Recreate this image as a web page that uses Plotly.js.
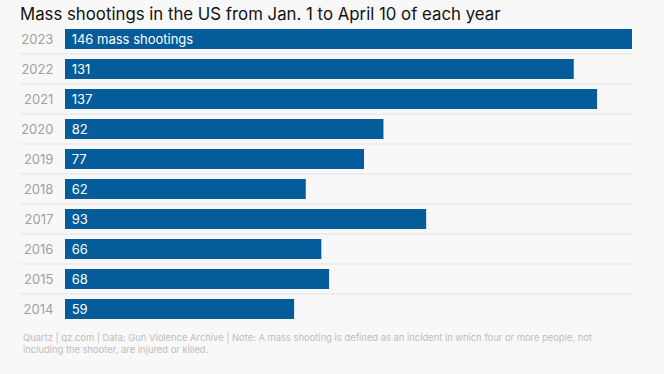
<!DOCTYPE html>
<html>
<head>
<meta charset="utf-8">
<script src="https://cdn.plot.ly/plotly-3.0.1.min.js"></script>
<style>html,body{margin:0;padding:0;background:#f8f8f8;}</style>
</head>
<body>
<div id="chart" style="width:664px;height:374px;"></div>
<script>
const years = ["2023","2022","2021","2020","2019","2018","2017","2016","2015","2014"];
const shootings = [146,131,137,82,77,62,93,66,68,59];
const barLabels = ["146 mass shootings","131","137","82","77","62","93","66","68","59"];

const W = 664, L = 65, R = 32;
const plotW = W - L - R;
const font = "Inter, 'Noto Sans', Arial, sans-serif";

const shapes = [];
for (let i = 0; i < years.length - 1; i++) {
  shapes.push({
    type: "line", xref: "paper", yref: "y",
    x0: (20 - L) / plotW, x1: 1,
    y0: i + 0.5, y1: i + 0.5,
    line: {color: "#e3e3e3", width: 1},
    layer: "below"
  });
}

const trace = {
  type: "bar",
  orientation: "h",
  y: years,
  x: shootings,
  text: barLabels.map(t => "\u00a0" + t),
  textposition: "inside",
  insidetextanchor: "start",
  textfont: {color: "#ffffff", size: 13, family: font},
  constraintext: "none",
  marker: {color: "#045c9a"},
  hoverinfo: "skip"
};

const layout = {
  width: 664, height: 374,
  margin: {l: L, r: R, t: 24, b: 50},
  paper_bgcolor: "#f8f8f8",
  plot_bgcolor: "#f8f8f8",
  bargap: 0.33,
  showlegend: false,
  title: {
    text: "Mass shootings in the US from Jan. 1 to April 10 of each year",
    x: 20 / W, xanchor: "left", xref: "container",
    y: 0.978, yanchor: "top", yref: "container",
    font: {family: font, size: 16.8, color: "#111111"}
  },
  xaxis: {range: [0, 146], visible: false, fixedrange: true},
  yaxis: {
    type: "category",
    autorange: "reversed",
    showgrid: false, zeroline: false, showline: false,
    ticks: "outside", ticklen: 8, tickcolor: "rgba(0,0,0,0)",
    tickfont: {family: font, size: 13, color: "#a0a0a0"}
  },
  shapes: shapes,
  annotations: [{
    xref: "paper", yref: "paper",
    x: (21 - L) / plotW, y: -0.019,
    xanchor: "left", yanchor: "top", align: "left",
    showarrow: false,
    text: "Quartz | qz.com | Data: Gun Violence Archive | Note: A mass shooting is defined as an incident in which four or more people, not<br>including the shooter, are injured or killed.",
    font: {family: font, size: 9.4, color: "#bdbdbd"}
  }]
};

Plotly.newPlot("chart", [trace], layout, {displayModeBar: false, staticPlot: true});
</script>
</body>
</html>
